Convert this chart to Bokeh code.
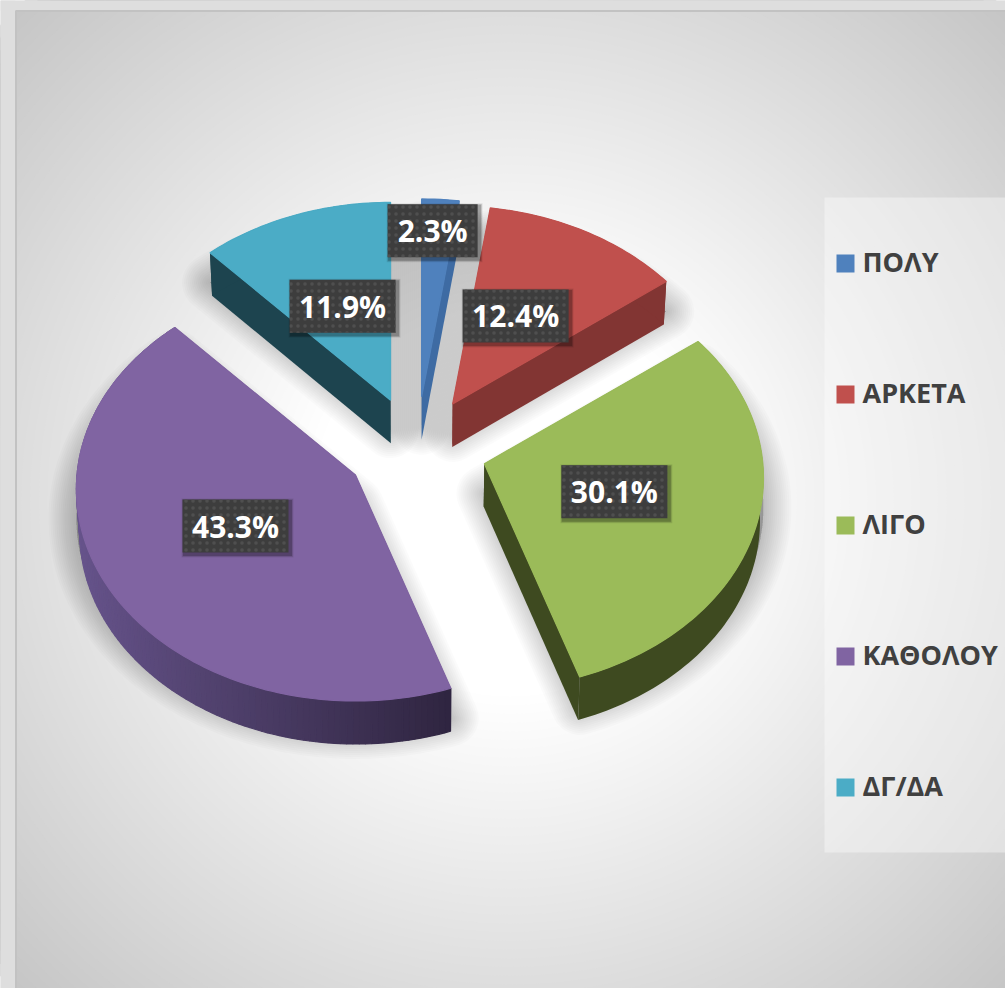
import numpy as np
from bokeh.plotting import figure
from bokeh.models import Range1d
from bokeh.core.properties import value
from bokeh.embed import file_html
from bokeh.resources import INLINE

# ---- data
categories = ["ΠΟΛΥ", "ΑΡΚΕΤΑ", "ΛΙΓΟ", "ΚΑΘΟΛΟΥ", "ΔΓ/ΔΑ"]
percent = [2.3, 12.4, 30.1, 43.3, 11.9]
labels = ["2.3%", "12.4%", "30.1%", "43.3%", "11.9%"]

# ---- style
top_colors = ["#4f81bd", "#c0504d", "#9bbb59", "#8064a2", "#4bacc6"]
side_colors = ["#3e6ba3", "#823533", "#3e4a20", "#2f2540", "#1d444f"]
arc_left_colors = ["#3e6ba3", "#823533", "#3e4a20", "#67548c", "#1d444f"]
CX, CY = 416.0, 448.0
EXPLODE, FLAT = 71.0, 0.73
R_X, R_Y, PERSP = 278.5, 211.0, 0.0663
DEPTH = 43.0
label_offsets = [(11, -166), (63, -88), (130, 28), (-120, 51), (-48, -94)]
label_box_w = [90, 106, 106, 106, 106]
label_box_h = 53

W, H = 1005, 988
p = figure(width=W, height=H, x_range=Range1d(0, W), y_range=Range1d(H, 0),
           output_backend="svg", toolbar_location=None, min_border=0,
           background_fill_color="#dedede",
           border_fill_color="#dedede", outline_line_color=None)
p.xaxis.visible = False
p.yaxis.visible = False
p.grid.visible = False

# ---- chart area: radial background built from nested ellipses
levels = np.arange(198, 256)
radii = 0.4 + (1 - levels / 255.0) / 0.22
radii = radii[np.argsort(-radii)]
colors = ["#%02x%02x%02x" % (int(v), int(v), int(v)) for v in np.sort(levels)]
p.quad(left=[15], right=[1005], top=[10], bottom=[988], fill_color=colors[0], line_color=None)
p.ellipse(x=[510] * len(radii), y=[500] * len(radii), width=list(2 * 495 * radii),
          height=list(2 * 490 * radii), fill_color=colors, line_color=None)
# outer band on top of the ellipses
p.quad(left=[0, 0], right=[15, 1005], top=[0, 0], bottom=[988, 10], fill_color="#dedede", line_color=None)
p.line(x=[15.5, 15.5, 1005], y=[988, 10.5, 10.5], line_color="#c2c2c2", line_width=2)


def project(theta):
    u, v = np.sin(theta), np.cos(theta)
    s = 1 / (1 + PERSP * v)
    return R_X * u * s, -R_Y * v * s


def lower(x, y):
    return CX + (np.asarray(x) - CX) * 0.99, np.asarray(y) + DEPTH


def lerp(c1, c2, t):
    a = [int(c1[i:i + 2], 16) for i in (1, 3, 5)]
    b = [int(c2[i:i + 2], 16) for i in (1, 3, 5)]
    return "#%02x%02x%02x" % tuple(int(round(a[i] + (b[i] - a[i]) * t)) for i in range(3))


total = sum(percent)
edges = np.concatenate([[0], np.cumsum(percent)]) / total * 2 * np.pi
slices = []
for i in range(len(percent)):
    t0, t1 = edges[i], edges[i + 1]
    mid = (t0 + t1) / 2
    ax = CX + EXPLODE * np.sin(mid)
    ay = CY - EXPLODE * FLAT * np.cos(mid)
    n = max(6, int(percent[i] * 3))
    th = np.linspace(t0, t1, n + 1)
    dx, dy = project(th)
    slices.append(dict(i=i, ax=ax, ay=ay, th=th, arc_x=ax + dx, arc_y=ay + dy))

# ---- shadows
for w in range(4, 60, 4):
    xs, ys = [], []
    for s in slices:
        xs.append(np.r_[s["ax"], s["arc_x"]])
        ys.append(np.r_[s["ay"], s["arc_y"]] + 30)
    p.patches(xs, ys, fill_color="#000000", fill_alpha=0.015, line_color="#000000",
              line_alpha=0.015, line_width=w, line_join="round")

# ---- slices, back to front
for s in sorted(slices, key=lambda d: d["ay"]):
    i = s["i"]
    ax, ay = s["ax"], s["ay"]
    ax2, ay2 = lower(ax, ay)
    ex2, ey2 = lower(s["arc_x"], s["arc_y"])
    wall_x, wall_y = [], []
    for k in (0, -1):
        wall_x.append([ax, s["arc_x"][k], ex2[k], ax2])
        wall_y.append([ay, s["arc_y"][k], ey2[k], ay2])
    p.patches(wall_x, wall_y, fill_color=side_colors[i], line_color=None)
    if arc_left_colors[i] == side_colors[i]:
        # flat outer wall: a single polygon
        p.patch(np.r_[s["arc_x"], ex2[::-1]], np.r_[s["arc_y"], ey2[::-1]],
                fill_color=side_colors[i], line_color=None)
    else:
        arc_x, arc_y, arc_c = [], [], []
        for k in range(len(s["th"]) - 1):
            arc_x.append([s["arc_x"][k], s["arc_x"][k + 1], ex2[k + 1], ex2[k]])
            arc_y.append([s["arc_y"][k], s["arc_y"][k + 1], ey2[k + 1], ey2[k]])
            u = np.sin((s["th"][k] + s["th"][k + 1]) / 2)
            arc_c.append(lerp(arc_left_colors[i], side_colors[i], float(np.clip((u + 1) / 1.32, 0, 1))))
        p.patches(arc_x, arc_y, fill_color=arc_c, line_color=arc_c, line_width=1.2)
    p.patch(np.r_[ax, s["arc_x"]], np.r_[ay, s["arc_y"]], fill_color=top_colors[i],
            line_color=top_colors[i], line_width=1.2)

# ---- data labels
lx = [slices[i]["ax"] + label_offsets[i][0] for i in range(5)]
ly = [slices[i]["ay"] + label_offsets[i][1] for i in range(5)]
for d, a in zip((6, 4.5, 3), (0.08, 0.12, 0.18)):
    p.rect([x + 2 for x in lx], [y + 2 for y in ly], width=[w + d for w in label_box_w],
           height=label_box_h + d, fill_color="#000000", fill_alpha=a, line_color=None)
p.rect(lx, ly, width=label_box_w, height=label_box_h, fill_color="#3d3d3d", line_color=None,
       hatch_pattern="dot", hatch_color="#4f4f4f", hatch_scale=7, hatch_weight=1.5)
p.text(lx, ly, text=labels, text_color="#ffffff", text_font=value("Open Sans"),
       text_font_style="bold", text_font_size="30px", text_align="center", text_baseline="middle")

# ---- legend
leg_y = [263, 394, 525, 656, 787]
p.quad(left=[824], right=[1005], top=[197], bottom=[852], fill_color="#ffffff", fill_alpha=0.38, line_color=None)
p.rect([845] * 5, leg_y, width=18, height=18, fill_color=top_colors, line_color=None)
p.text([862] * 5, [y - 2 for y in leg_y], text=categories, text_color="#404040", text_font=value("Open Sans"),
       text_font_style="bold", text_font_size="27px", text_align="left", text_baseline="middle")

open("out.html", "w").write(file_html(p, INLINE))
